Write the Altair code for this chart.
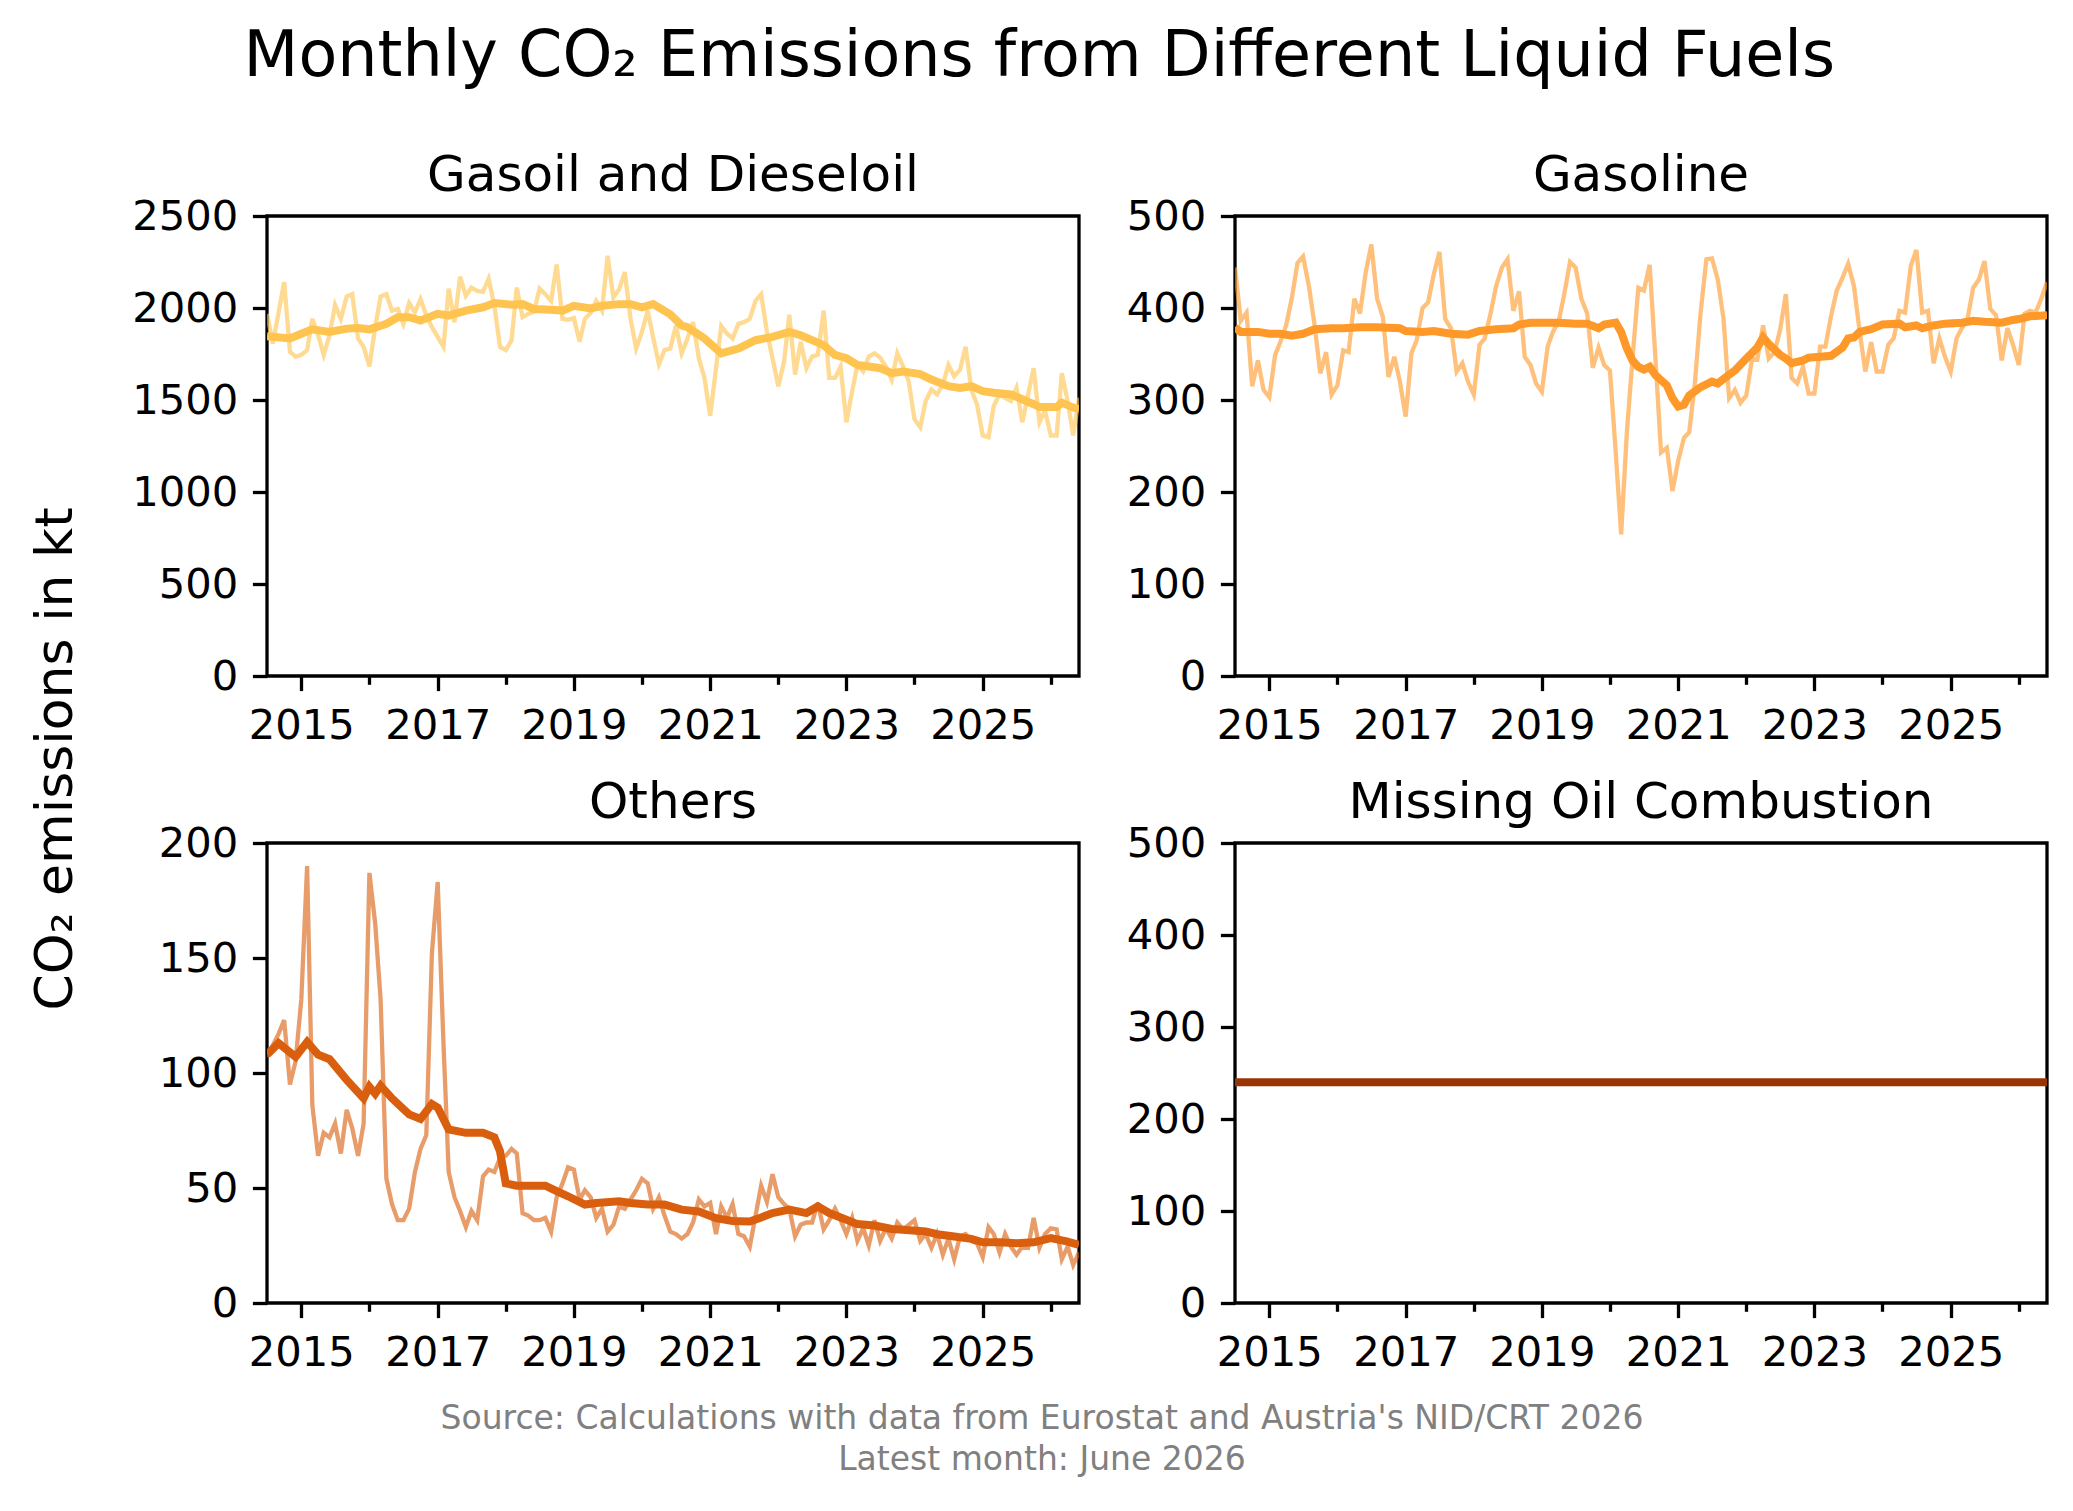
import altair as alt
import pandas as pd

# ---------------- data ----------------
months = pd.date_range("2014-07-01", "2026-06-01", freq="MS")  # 144 monthly points

diesel = [1968, 1807, 1975, 2141, 1762, 1736, 1745, 1771, 1941, 1852,
          1745, 1852, 2016, 1941, 2062, 2075, 1834, 1789, 1682, 1896,
          2062, 2075, 1986, 1995, 1914, 2027, 1977, 2048, 1959, 1896,
          1843, 1789, 2105, 1923, 2170, 2066, 2111, 2093, 2088, 2159,
          2012, 1789, 1771, 1825, 2111, 1950, 1968, 1980, 2105, 2075,
          2039, 2236, 1941, 1936, 1946, 1816, 1941, 1973, 2039, 1986,
          2284, 2057, 2102, 2195, 1941, 1780, 1870, 1986, 1840, 1695,
          1771, 1780, 1905, 1754, 1834, 1923, 1727, 1620, 1414, 1673,
          1902, 1861, 1834, 1914, 1923, 1941, 2039, 2075, 1870, 1727,
          1575, 1709, 1963, 1638, 1816, 1673, 1736, 1745, 1986, 1620,
          1620, 1682, 1379, 1548, 1691, 1655, 1736, 1754, 1730, 1682,
          1611, 1754, 1682, 1602, 1396, 1352, 1495, 1557, 1530, 1584,
          1691, 1629, 1664, 1789, 1557, 1477, 1307, 1298, 1468, 1530,
          1512, 1495, 1566, 1379, 1530, 1673, 1379, 1441, 1307, 1307,
          1646, 1495, 1307, 1512]
diesel_trend_idx = [0, 4, 6, 8, 11, 14, 16, 18, 21, 23, 25, 27, 30, 32, 35, 38, 40, 43, 45, 47,
                    50, 52, 54, 57, 59, 62, 64, 66, 68, 71, 73, 74, 77, 80, 83, 86, 89, 92, 94, 96,
                    98, 100, 102, 104, 106, 108, 110, 112, 115, 117, 120, 122, 124, 126, 128, 131,
                    133, 135, 136, 139, 140, 142, 143]
diesel_trend = [1846, 1834, 1860, 1884, 1870, 1888, 1891, 1884, 1914, 1950, 1950, 1932, 1968, 1959,
                1986, 2004, 2027, 2018, 2021, 1995, 1991, 1986, 2012, 1998, 2012, 2021, 2021, 2004,
                2021, 1965, 1905, 1896, 1834, 1754, 1780, 1825, 1843, 1870, 1852, 1825, 1798, 1745,
                1727, 1691, 1682, 1673, 1646, 1655, 1641, 1611, 1575, 1566, 1575, 1548, 1539, 1530,
                1504, 1477, 1462, 1462, 1486, 1459, 1450]

gasoline = [444, 386, 395, 315, 343, 311, 303, 349, 363, 381,
            410, 449, 456, 424, 381, 329, 352, 306, 316, 354,
            352, 410, 394, 439, 469, 410, 390, 325, 347, 320,
            282, 351, 365, 400, 406, 437, 461, 388, 378, 331,
            340, 320, 306, 360, 367, 394, 424, 444, 453, 397,
            418, 347, 338, 318, 309, 358, 374, 385, 415, 450,
            444, 410, 394, 335, 357, 338, 332, 243, 154, 266,
            345, 422, 419, 447, 345, 243, 248, 201, 234, 259,
            265, 320, 395, 453, 454, 431, 388, 302, 311, 297,
            305, 345, 344, 381, 345, 352, 376, 415, 324, 318,
            336, 307, 307, 358, 358, 392, 419, 433, 448, 424,
            374, 331, 363, 331, 331, 360, 367, 397, 395, 446,
            463, 395, 397, 340, 367, 347, 331, 367, 378, 388,
            422, 431, 451, 399, 392, 343, 378, 360, 338, 394,
            397, 395, 410, 428]
gasoline_trend_idx = [0, 1, 4, 6, 8, 10, 12, 14, 17, 19, 22, 25, 29, 30, 33, 35, 38, 41, 43, 46,
                      49, 50, 52, 57, 60, 62, 64, 65, 67, 68, 69, 70, 71, 72, 73, 74, 76, 77, 78, 79,
                      80, 82, 84, 85, 86, 88, 90, 92, 93, 94, 96, 97, 98, 100, 101, 103, 105, 107,
                      108, 109, 110, 112, 114, 117, 118, 120, 121, 123, 125, 128, 130, 132, 135,
                      137, 138, 140, 143]
gasoline_trend = [379, 374, 374, 372, 372, 370, 372, 377, 378, 378, 379, 379, 378, 375, 374, 375,
                  372, 371, 375, 377, 378, 382, 384, 384, 383, 383, 378, 382, 384, 374, 356, 343,
                  336, 333, 336, 327, 316, 302, 293, 295, 305, 314, 320, 318, 323, 332, 345, 357,
                  368, 361, 349, 345, 340, 343, 346, 347, 348, 357, 367, 368, 374, 377, 382, 383,
                  379, 381, 378, 381, 383, 384, 386, 385, 384, 387, 388, 391, 392]

others = [107, 112, 117, 123, 95, 105, 132, 190, 86, 64,
          74, 72, 78, 65, 84, 76, 64, 78, 187, 165,
          132, 54, 43, 36, 36, 41, 57, 67, 73, 152,
          183, 113, 57, 46, 40, 33, 40, 36, 55, 58,
          57, 63, 64, 67, 65, 39, 38, 36, 36, 37,
          31, 46, 52, 59, 58, 45, 49, 46, 37, 41,
          31, 34, 42, 41, 45, 49, 54, 52, 41, 46,
          38, 31, 30, 28, 30, 35, 45, 42, 43.5, 30,
          42, 37, 43, 30, 29, 24.5, 38, 51, 44, 56,
          46, 43, 41, 29, 34, 35, 35, 43.5, 32, 36,
          41, 36, 30, 37, 27, 32.5, 25, 36, 27, 32.5,
          28, 35, 32, 34, 36, 27, 30, 24, 30, 21,
          28, 19, 29, 30, 27, 26, 20, 33, 30, 22,
          30, 24.5, 21, 24.5, 24, 37, 24, 30, 32.5, 32,
          19, 24.5, 16.5, 22]
others_trend_idx = [0, 2, 5, 7, 9, 11, 14, 17, 18, 19, 20, 22, 25, 27, 29, 30, 32, 35, 38, 40,
                    41, 42, 44, 46, 49, 51, 53, 56, 58, 62, 64, 67, 70, 73, 76, 79, 82, 85, 87,
                    89, 92, 95, 97, 99, 102, 104, 107, 110, 112, 116, 118, 121, 124, 126, 129,
                    132, 135, 138, 141, 143]
others_trend = [108, 113, 107, 113.5, 108, 106, 97, 89, 94, 91, 94.5, 89, 82, 80, 86.5, 85, 75.5,
                74, 74, 72, 66, 52, 51, 51, 51, 48.6, 46.4, 42.8, 43.5, 44.2, 43.5, 42.8, 42.8,
                40.6, 39.8, 36.9, 35.7, 35.4, 37.2, 39.1, 40.6, 39.1, 42, 39.1, 36.2, 34.3, 33.7,
                32.2, 31.8, 31.1, 29.9, 28.9, 27.9, 26.4, 26.4, 26, 26.4, 28.2, 26.7, 25.2]

missing_level = 240
missing = [missing_level] * len(months)

panel_titles = ["Gasoil and Dieseloil", "Gasoline", "Others", "Missing Oil Combustion"]
colors = ["#fec44f", "#fe9929", "#d95f0e", "#993404"]
y_max = [2500, 500, 200, 500]
y_step = [500, 100, 50, 100]
main_title = "Monthly CO\u2082 Emissions from Different Liquid Fuels"
y_label = "CO\u2082 emissions in kt"
footer_lines = ["Source: Calculations with data from Eurostat and Austria's NID/CRT 2026",
                "Latest month: June 2026"]
tick_years = list(range(2015, 2027))

# ---------------- styling ----------------
FONT = "DejaVu Sans"
W, H = 812, 460
TICK = 14.6
LAB = 41.7


def monthly_df(vals):
    return pd.DataFrame({"date": months, "value": vals})


def trend_df(idx, vals):
    return pd.DataFrame({"date": months[idx], "value": vals})


x_scale = alt.Scale(domain=[alt.DateTime(year=2014, month=7, date=1),
                            alt.DateTime(year=2026, month=6, date=1)], nice=False)


def x_axis():
    return alt.Axis(values=[alt.DateTime(year=y, month=1, date=1) for y in tick_years],
                    format="%Y",
                    labelExpr="toNumber(datum.label) % 2 == 1 ? datum.label : ''",
                    tickSize={"condition": {"test": "year(datum.value) % 2 == 0", "value": 8.3},
                              "value": TICK},
                    labelPadding=TICK, labelFlush=False, labelOverlap=False)


def y_axis(ymax, step, extent):
    return alt.Axis(values=list(range(0, ymax + 1, step)), format="d", tickSize=TICK,
                    labelPadding=TICK, labelFlush=False, labelOverlap=False,
                    minExtent=extent, maxExtent=extent)


def panel(df_m, df_t, color, title, ymax, step, extent):
    enc_x = alt.X("date:T", scale=x_scale, axis=x_axis(), title=None)
    enc_y = alt.Y("value:Q", scale=alt.Scale(domain=[0, ymax], nice=False),
                  axis=y_axis(ymax, step, extent), title=None)
    light = alt.Chart(df_m).mark_line(color=color, opacity=0.62, strokeWidth=4.3,
                                      clip=True).encode(x=enc_x, y=enc_y)
    thick = alt.Chart(df_t).mark_line(color=color, strokeWidth=8,
                                      clip=True).encode(x="date:T", y="value:Q")
    return alt.layer(light, thick).properties(
        width=W, height=H,
        title=alt.TitleParams(title, fontSize=50, font=FONT, fontWeight="normal",
                              color="black", frame="group", baseline="alphabetic",
                              offset=-44.7, anchor="middle"))


p1 = panel(monthly_df(diesel), trend_df(diesel_trend_idx, diesel_trend), colors[0],
           panel_titles[0], y_max[0], y_step[0], 135)
p2 = panel(monthly_df(gasoline), trend_df(gasoline_trend_idx, gasoline_trend), colors[1],
           panel_titles[1], y_max[1], y_step[1], 109)
p3 = panel(monthly_df(others), trend_df(others_trend_idx, others_trend), colors[2],
           panel_titles[2], y_max[2], y_step[2], 135)
p4 = panel(monthly_df(missing), monthly_df(missing), colors[3],
           panel_titles[3], y_max[3], y_step[3], 109)

row1 = alt.hconcat(p1, p2, spacing=43)
row2 = alt.hconcat(p3, p4, spacing=43)
panels = alt.vconcat(row1, row2, spacing=27)

one = pd.DataFrame({"a": [0]})
footer = alt.Chart(one).mark_text(fontSize=33, font=FONT, color="gray", lineHeight=41,
                                  baseline="middle").encode(
    text=alt.value(footer_lines), x=alt.value(775), y=alt.value(43)
).properties(width=1700, height=80, view=alt.ViewBackground(strokeOpacity=0))

grid = alt.vconcat(panels, footer, spacing=0)

ylab = alt.Chart(one).mark_text(fontSize=52, font=FONT, color="black", angle=270).encode(
    text=alt.value(y_label), x=alt.value(48), y=alt.value(543)
).properties(width=96, height=1000, view=alt.ViewBackground(strokeOpacity=0))

chart = alt.hconcat(ylab, grid, spacing=26).properties(
    title=alt.TitleParams(main_title, fontSize=63.5, font=FONT, fontWeight="normal",
                          color="black", anchor="middle", offset=60, dx=11),
    padding={"top": 16, "left": 0, "right": 0, "bottom": 0},
    background="white",
).configure_view(stroke="black", strokeWidth=3.3).configure_axis(
    labelFont=FONT, labelFontSize=LAB, labelColor="black", tickColor="black",
    tickWidth=3.3, domain=False, grid=False)

chart.save("out.html", embed_options={"renderer": "svg", "actions": False})
